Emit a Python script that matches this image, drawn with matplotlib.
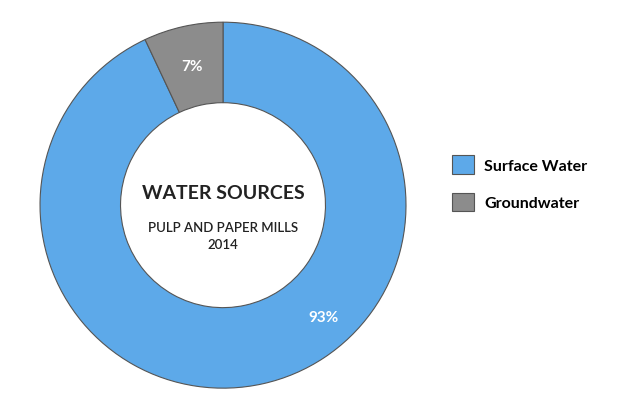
import matplotlib
matplotlib.use("Agg")
import matplotlib.pyplot as plt
from matplotlib.patches import Patch
import numpy as np

categories = ["Surface Water", "Groundwater"]
values = [93, 7]
labels = ["93%", "7%"]
colors = ["#5DA9E9", "#8C8C8C"]

plt.rcParams['font.family'] = ['Lato', 'DejaVu Sans']
fig = plt.figure(figsize=(6.39, 4.14), dpi=100)
ax = fig.add_axes([0.349 - 0.2864, 0.502 - 0.442, 0.5728, 0.884])
wedges, _ = ax.pie(values, colors=colors, startangle=90, counterclock=False,
                   wedgeprops=dict(width=0.44, edgecolor="#555555", linewidth=0.8))
ax.set_aspect('equal')
ax.set_xlim(-1.0, 1.0); ax.set_ylim(-1.0, 1.0)

start = 90
for v, lab in zip(values, labels):
    mid = start - v * 3.6 / 2
    start -= v * 3.6
    if lab == "93%":
        r, ang = 0.82, np.deg2rad(-48)
    else:
        r, ang = 0.78, np.deg2rad(mid)
    ax.text(r * np.cos(ang), r * np.sin(ang), lab, ha='center', va='center',
            color='white', fontsize=11, fontweight='bold')

ax.text(0, 0.07, "WATER SOURCES", ha='center', va='center', fontsize=14,
        fontweight='bold', color='#222222')
ax.text(0, -0.12, "PULP AND PAPER MILLS", ha='center', va='center', fontsize=9.5,
        fontweight='semibold', color='#222222')
ax.text(0, -0.21, "2014", ha='center', va='center', fontsize=9.5,
        fontweight='semibold', color='#222222')

handles = [Patch(facecolor=c, edgecolor="#555555", linewidth=0.8) for c in colors]
fig.legend(handles, categories, loc='center left', bbox_to_anchor=(0.685, 0.555),
           frameon=False, handlelength=1.4, handleheight=1.4,
           labelspacing=1.2, handletextpad=0.6,
           prop={'weight': 'bold', 'size': 11.5})
fig.savefig("out.png", dpi=100)
